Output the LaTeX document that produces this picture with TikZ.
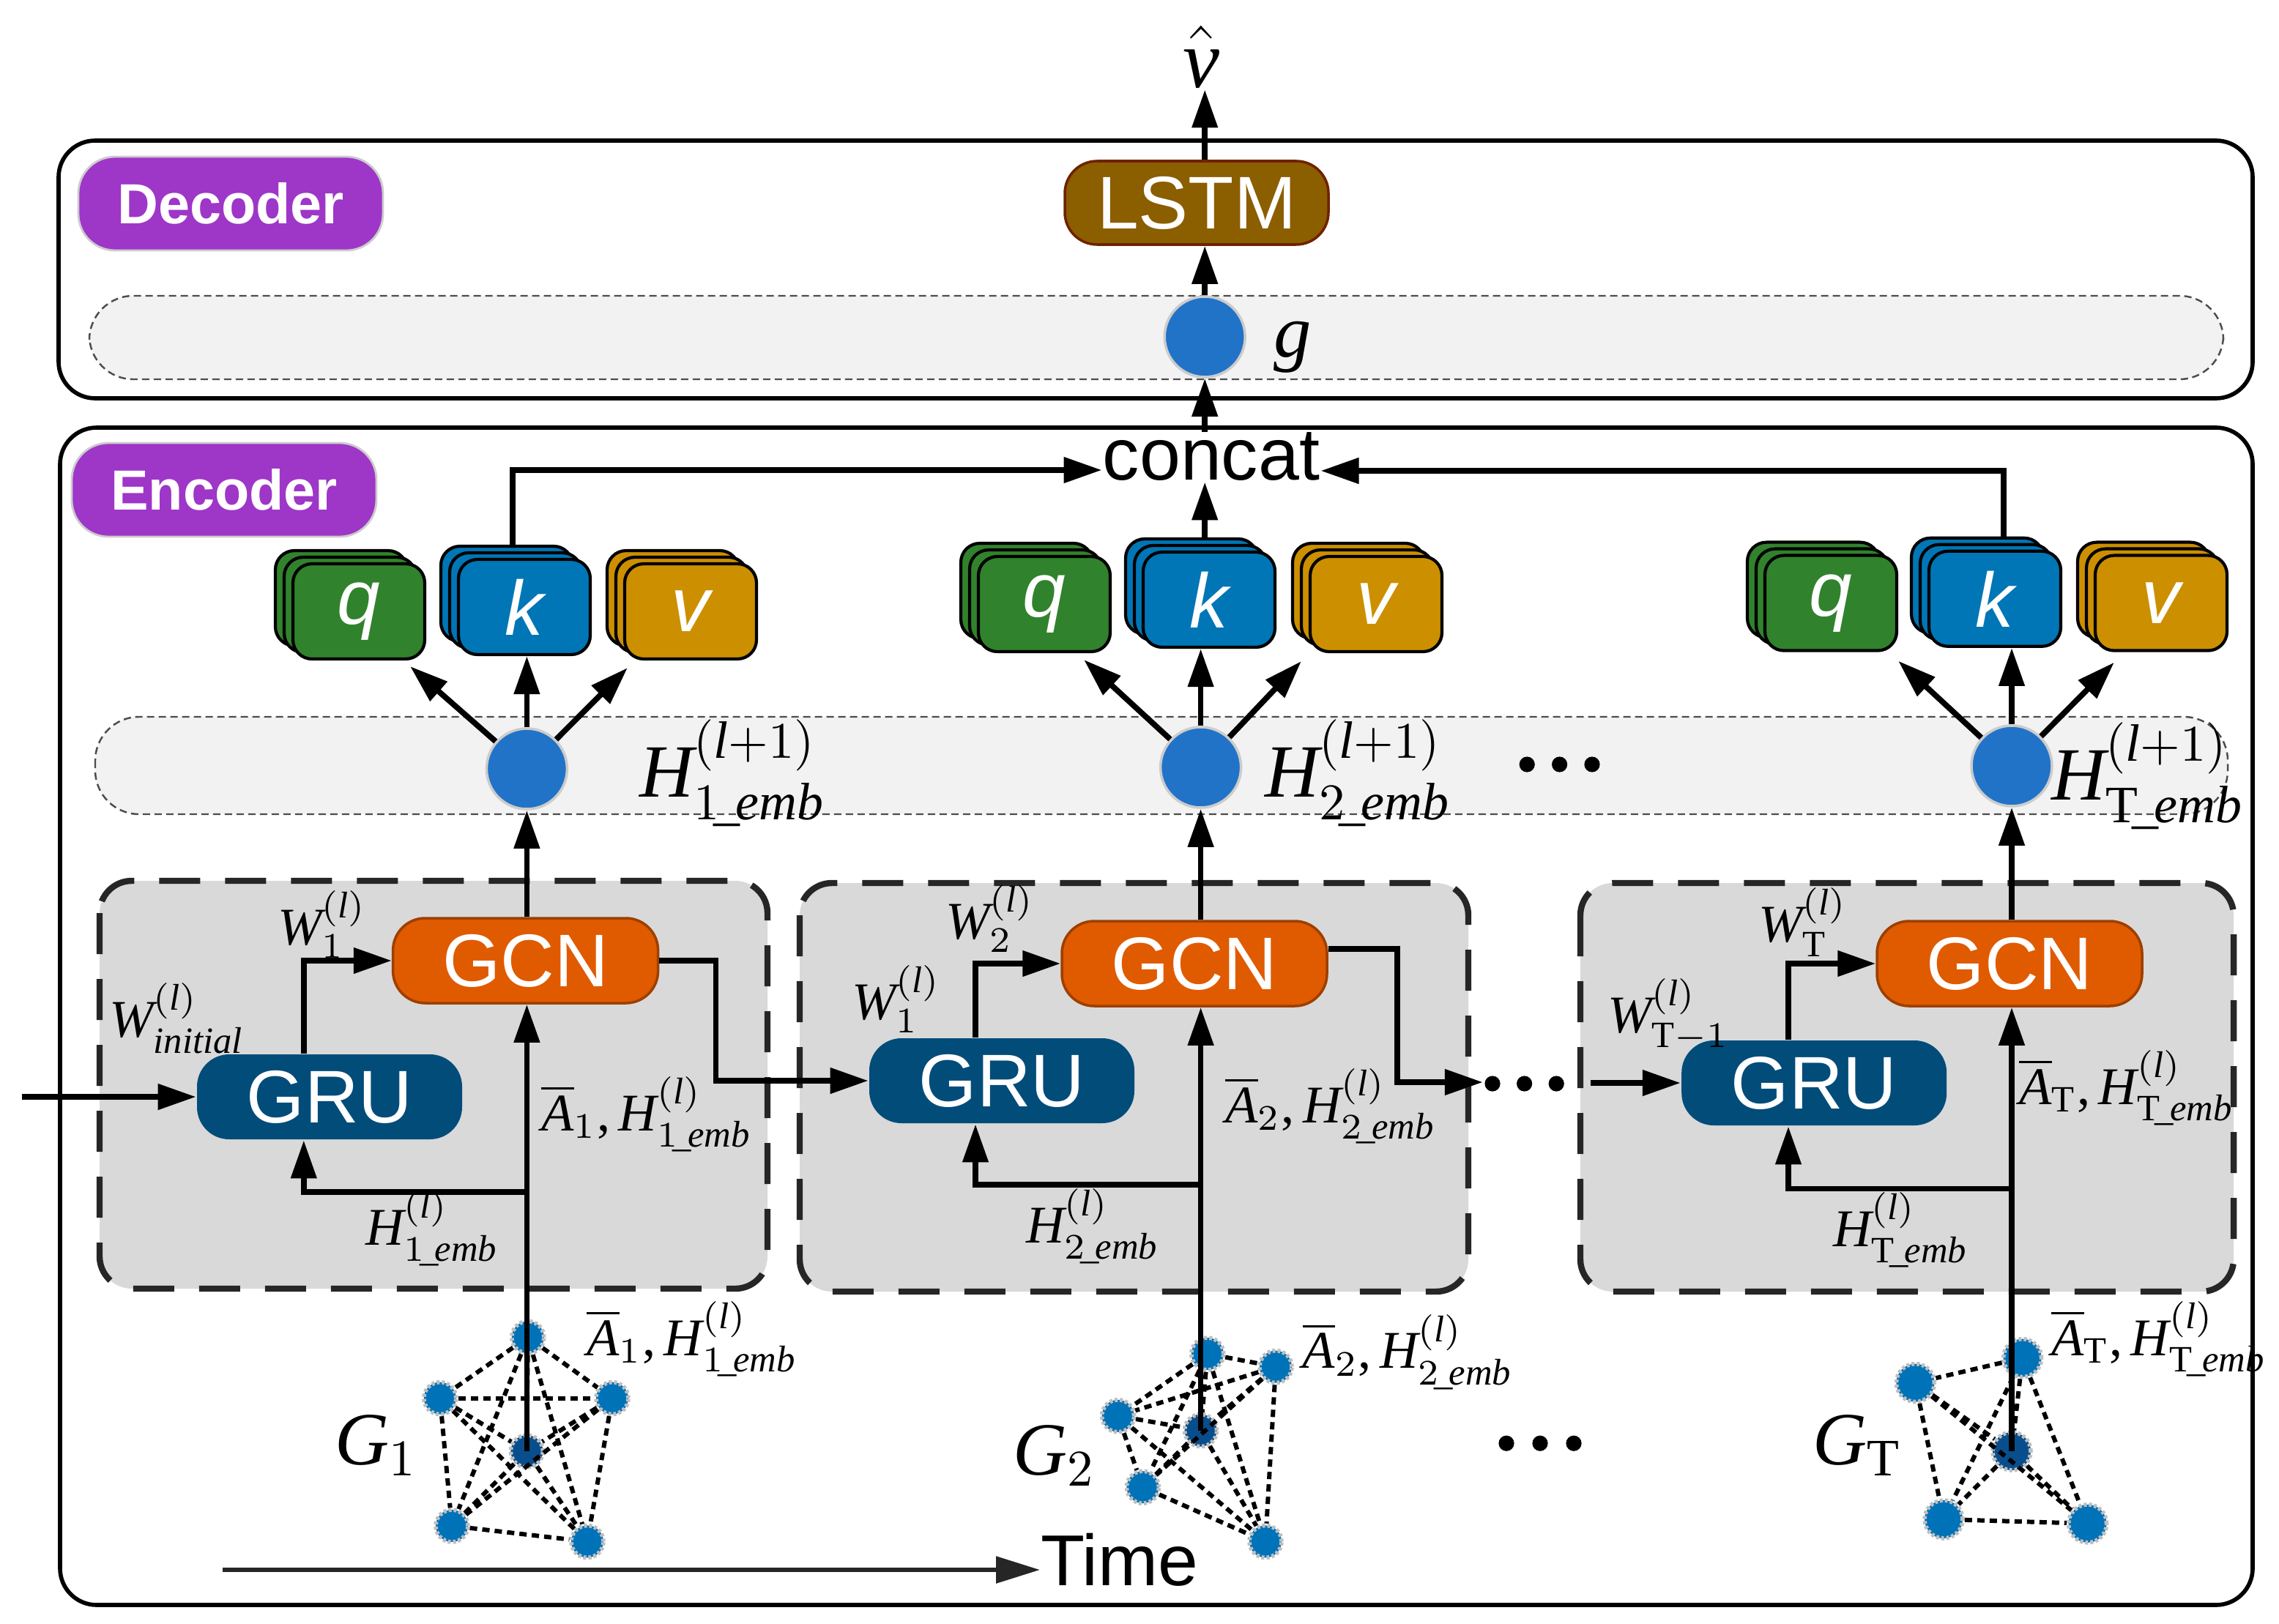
\documentclass[tikz,border=0pt]{standalone}
\usepackage{amsmath}
\usepackage{fontspec}
\setmainfont{Liberation Serif}
\setsansfont{Liberation Sans}
\newfontfamily\timesfam{Liberation Serif}[NFSSFamily=ltms]
\DeclareSymbolFont{letters}{TU}{ltms}{m}{it}
\DeclareSymbolFont{operators}{TU}{ltms}{m}{n}
\DeclareMathSymbol{,}{\mathpunct}{operators}{"2C}
\usetikzlibrary{arrows.meta,positioning}

\definecolor{tagpurple}{RGB}{158,54,200}
\definecolor{lstmbrown}{RGB}{139,94,0}
\definecolor{gcnorange}{RGB}{224,90,0}
\definecolor{grublue}{RGB}{2,76,122}
\definecolor{qgreen}{RGB}{49,130,44}
\definecolor{kblue}{RGB}{0,118,182}
\definecolor{vgold}{RGB}{204,143,0}
\definecolor{hblue}{RGB}{33,115,200}
\definecolor{gnode}{RGB}{0,114,184}
\definecolor{gcore}{RGB}{8,78,140}
\definecolor{bandgray}{RGB}{242,242,242}
\definecolor{cellgray}{RGB}{217,217,217}

\newcommand\emb{\mkern-2mu\_\mkern-1.5mu emb}
\newcommand\qkvcard[5]{%
  \node[card,fill=#4] (#1b) at (#2-0.12,#3-0.09) {};
  \node[card,fill=#4] (#1m) at (#2-0.06,#3-0.045) {};
  \node[card,fill=#4] (#1) at (#2,#3) {#5};}

\begin{document}
\begin{tikzpicture}[x=1cm,y=-1cm,
    arr/.style={line width=1.1pt,-{Triangle[length=0.26cm,width=0.17cm]}},
    timearr/.style={line width=0.8pt,draw=black!85,-{Triangle[length=0.3cm,width=0.18cm]}},
    outerbox/.style={draw,line width=0.8pt,rounded corners=0.25cm},
    band/.style={draw=black!70,fill=bandgray,line width=0.35pt,dash pattern=on 0.05cm off 0.03cm,rounded corners=0.3cm},
    cell/.style={draw=black!85,fill=cellgray,line width=1.2pt,dash pattern=on 0.28cm off 0.17cm,rounded corners=0.22cm},
    tag/.style={fill=tagpurple,draw=black!20,rounded corners=0.25cm,text=white,font=\sffamily\bfseries\fontsize{11}{13}\selectfont,minimum height=0.64cm,minimum width=2.08cm,inner sep=0},
    unitbox/.style={rounded corners=0.22cm,text=white,font=\sffamily\fontsize{14.5}{17}\selectfont,minimum width=1.81cm,minimum height=0.58cm,inner sep=0},
    gcnbox/.style={unitbox,fill=gcnorange,draw=gcnorange!70!black,line width=0.5pt},
    grubox/.style={unitbox,fill=grublue},
    lstmbox/.style={unitbox,fill=lstmbrown,draw=lstmbrown!60!red!60!black,line width=0.5pt,minimum width=1.8cm,minimum height=0.57cm},
    card/.style={rounded corners=0.13cm,draw=black,line width=0.6pt,minimum width=0.9cm,minimum height=0.65cm,inner sep=0,text=white,font=\sffamily\itshape\fontsize{15}{17}\selectfont},
    hnode/.style={circle,fill=hblue,draw=black!20,line width=0.5pt,minimum size=0.55cm,inner sep=0},
    gnd/.style={circle,fill=gnode,draw=black!25,dash pattern=on 0.02cm off 0.015cm,line width=0.8pt,minimum size=0.22cm,inner sep=0},
    gedge/.style={line width=0.85pt,dash pattern=on 0.05cm off 0.035cm},
    lab/.style={inner sep=0,anchor=base west,font=\fontsize{10.3}{12}\selectfont},
    biglab/.style={inner sep=0,anchor=base west,font=\fontsize{14.6}{17}\selectfont}]

\useasboundingbox (0,0) rectangle (15.56,11.085);

% frames
\draw[outerbox] (0.40,0.96) rectangle (15.38,2.72);
\draw[outerbox] (0.41,2.92) rectangle (15.38,10.96);
\node[tag] (dec) at (1.575,1.39) {Decoder};
\node[tag] (enc) at (1.53,3.345) {Encoder};
\path[band] (0.61,2.02) rectangle (15.18,2.59);
\path[band] (0.65,4.895) rectangle (15.21,5.56);
\path[cell] (0.68,6.015) rectangle (5.24,8.80);
\path[cell] (5.46,6.03) rectangle (10.025,8.82);
\path[cell] (10.79,6.03) rectangle (15.25,8.82);

% decoder
\node[hnode] (g) at (8.226,2.30) {};
\node[biglab] (glab) at (8.69,2.44) {$g$};
\node[lstmbox] (lstm) at (8.17,1.385) {LSTM};
\node[inner sep=0,anchor=base,font=\fontsize{16}{18}\selectfont] (vhat) at (8.20,0.60) {$\hat{v}$};
\node[inner sep=0,anchor=base,font=\sffamily\fontsize{14.3}{17}\selectfont] (concat) at (8.27,3.28) {concat};
\draw[arr] (g) -- (g |- lstm.south);
\draw[arr] (g |- lstm.north) -- (vhat.south -| g);
\draw[arr] (concat.north -| g) -- (g.south);

% attention heads
\qkvcard{q1}{2.45}{4.175}{qgreen}{q}
\qkvcard{k1}{3.58}{4.145}{kblue}{k}
\qkvcard{v1}{4.715}{4.175}{vgold}{v}
\qkvcard{q2}{7.13}{4.125}{qgreen}{q}
\qkvcard{k2}{8.255}{4.095}{kblue}{k}
\qkvcard{v2}{9.395}{4.125}{vgold}{v}
\qkvcard{q3}{12.50}{4.118}{qgreen}{q}
\qkvcard{k3}{13.62}{4.089}{kblue}{k}
\qkvcard{v3}{14.755}{4.118}{vgold}{v}
\draw[arr] ([xshift=0.04cm]k1b.north) |- ([yshift=0.07cm]concat.base west);
\draw[arr] ([xshift=0.18cm]k3b.north) |- ([yshift=0.065cm]concat.base east);
\draw[arr] (k2b.north -| g) -- (g |- concat.south);

\node[hnode] (h1) at (3.597,5.25) {};
\node[hnode] (h2) at (8.198,5.24) {};
\node[hnode] (h3) at (13.735,5.23) {};
\draw[arr] (h1) -- ([xshift=-0.11cm,yshift=-0.04cm]q1.south east);
\draw[arr] (h1) -- (h1 |- k1.south);
\draw[arr] (h1) -- ([xshift=0.03cm,yshift=-0.05cm]v1.south west);
\draw[arr] (h2) -- ([xshift=-0.19cm,yshift=-0.045cm]q2.south east);
\draw[arr] (h2) -- (h2 |- k2.south);
\draw[arr] (h2) -- ([xshift=-0.05cm,yshift=-0.055cm]v2.south west);
\draw[arr] (h3) -- ([yshift=-0.06cm]q3.south east);
\draw[arr] (h3) -- (h3 |- k3.south);
\draw[arr] (h3) -- ([xshift=0.14cm,yshift=-0.07cm]v3.south west);
\node[biglab] (hn1) at (4.36,5.44) {$H^{(l+1)}_{1\emb}$};
\node[biglab] (hn2) at (8.63,5.44) {$H^{(l+1)}_{2\emb}$};
\node[biglab] (hn3) at (14.0,5.46) {$H^{(l+1)}_{\mathrm{T}\emb}$};
\foreach \i in {0,1,2} \fill (10.426+0.222*\i,5.22) circle (0.053);

% GRU / GCN cells
\node[gcnbox] (gcn1) at (3.588,6.56) {GCN};
\node[gcnbox] (gcn2) at (8.155,6.58) {GCN};
\node[gcnbox] (gcn3) at (13.72,6.58) {GCN};
\node[grubox] (gru1) at (2.25,7.49) {GRU};
\node[grubox] (gru2) at (6.84,7.38) {GRU};
\node[grubox] (gru3) at (12.386,7.395) {GRU};

\coordinate (in1) at (0.15,7.49);
\coordinate (f1) at (3.597,8.14);
\coordinate (f2) at (8.198,8.09);
\coordinate (f3) at (13.735,8.117);
\coordinate (dots2) at (10.124,7.39);
\coordinate (from3) at (10.86,7.395);

\draw[arr] (in1) -- (gru1.west);
\draw[arr] (f1) -| ([xshift=-0.176cm]gru1.south);
\draw[arr] ([xshift=-0.176cm]gru1.north) |- (gcn1.west);
\draw[arr] (gcn1.east) -| ([xshift=-1.04cm]gru2.west) -- (gru2.west);
\draw[arr] (f2) -| ([xshift=-0.18cm]gru2.south);
\draw[arr] ([xshift=-0.18cm]gru2.north) |- (gcn2.west);
\draw[arr] ([yshift=0.1cm]gcn2.east) -| ([xshift=-0.584cm]dots2) -- (dots2);
\foreach \i in {0,1,2} \fill (10.19+0.218*\i,7.40) circle (0.053);
\draw[arr] (from3) -- (gru3.west);
\draw[arr] (f3) -| ([xshift=-0.176cm]gru3.south);
\draw[arr] ([xshift=-0.176cm]gru3.north) |- (gcn3.west);

\node[lab] (winit) at (0.74,7.08) {$W^{(l)}_{initial}$};
\node[lab] (w1a) at (1.89,6.45) {$W^{(l)}_{1}$};
\node[lab] (ah1) at (3.69,7.72) {$\overline{A}_{1}, H^{(l)}_{1\emb}$};
\node[lab] (hf1) at (2.49,8.50) {$H^{(l)}_{1\emb}$};
\node[lab] (w2) at (6.45,6.41) {$W^{(l)}_{2}$};
\node[lab] (w1b) at (5.81,6.96) {$W^{(l)}_{1}$};
\node[lab] (ah2) at (8.36,7.665) {$\overline{A}_{2}, H^{(l)}_{2\emb}$};
\node[lab] (hf2) at (7.0,8.485) {$H^{(l)}_{2\emb}$};
\node[lab] (w3) at (12.0,6.43) {$W^{(l)}_{\mathrm{T}}$};
\node[lab] (w2b) at (10.97,7.05) {$W^{(l)}_{\mathrm{T}-1}$};
\node[lab] (ah3) at (13.78,7.54) {$\overline{A}_{\mathrm{T}}, H^{(l)}_{\mathrm{T}\emb}$};
\node[lab] (hf3) at (12.51,8.51) {$H^{(l)}_{\mathrm{T}\emb}$};

% snapshot graphs
\node[gnd] (a1) at (3.604,9.132) {};
\node[gnd] (b1) at (3.004,9.548) {};
\node[gnd] (c1) at (4.18,9.548) {};
\node[gnd,fill=gcore] (m1) at (3.597,9.91) {};
\node[gnd] (d1) at (3.085,10.42) {};
\node[gnd] (e1) at (4.01,10.527) {};
\node[gnd] (a2) at (8.244,9.245) {};
\node[gnd] (r2) at (8.71,9.333) {};
\node[gnd] (l2) at (7.633,9.669) {};
\node[gnd,fill=gcore] (m2) at (8.198,9.768) {};
\node[gnd] (d2) at (7.802,10.156) {};
\node[gnd] (e2) at (8.64,10.527) {};
\node[gnd,minimum size=0.26cm] (a3) at (13.808,9.273) {};
\node[gnd,minimum size=0.26cm] (l3) at (13.077,9.443) {};
\node[gnd,minimum size=0.26cm,fill=gcore] (m3) at (13.735,9.91) {};
\node[gnd,minimum size=0.26cm] (d3) at (13.27,10.375) {};
\node[gnd,minimum size=0.26cm] (e3) at (14.253,10.404) {};
\foreach \u/\vs in {a1/{b1,c1,m1,d1,e1},b1/{c1,m1,d1,e1},c1/{m1,d1,e1},m1/{d1,e1},d1/{e1},
    a2/{r2,l2,m2,d2,e2},r2/{l2,m2,d2,e2},l2/{m2,d2,e2},m2/{d2,e2},d2/{e2},
    a3/{l3,m3,d3,e3},l3/{m3,d3,e3},m3/{d3,e3},d3/{e3}}
  \foreach \v in \vs \draw[gedge] (\u) -- (\v);

\draw[arr] (m1.center) -- (m1 |- gcn1.south);
\draw[arr] (m1 |- gcn1.north) -- (h1);
\draw[arr] (m2.center) -- (m2 |- gcn2.south);
\draw[arr] (m2 |- gcn2.north) -- (h2);
\draw[arr] (m3.center) -- (m3 |- gcn3.south);
\draw[arr] (m3 |- gcn3.north) -- (h3);

\node[biglab] (gl1) at (2.28,10.0) {$G_{1}$};
\node[biglab] (gl2) at (6.91,10.07) {$G_{2}$};
\node[biglab] (gl3) at (12.37,10.0) {$G_{\mathrm{T}}$};
\node[lab] (ag1) at (4.00,9.255) {$\overline{A}_{1}, H^{(l)}_{1\emb}$};
\node[lab] (ag2) at (8.887,9.344) {$\overline{A}_{2}, H^{(l)}_{2\emb}$};
\node[lab] (ag3) at (14.0,9.255) {$\overline{A}_{\mathrm{T}}, H^{(l)}_{\mathrm{T}\emb}$};
\foreach \i in {0,1,2} \fill (10.285+0.23*\i,9.856) circle (0.053);

% time axis
\coordinate (t0) at (1.52,10.72);
\node[inner sep=0,anchor=base west,font=\sffamily\fontsize{14}{16}\selectfont] (time) at (7.10,10.828) {Time};
\draw[timearr] (t0) -- ([yshift=0.108cm]time.base west);
\end{tikzpicture}
\end{document}
